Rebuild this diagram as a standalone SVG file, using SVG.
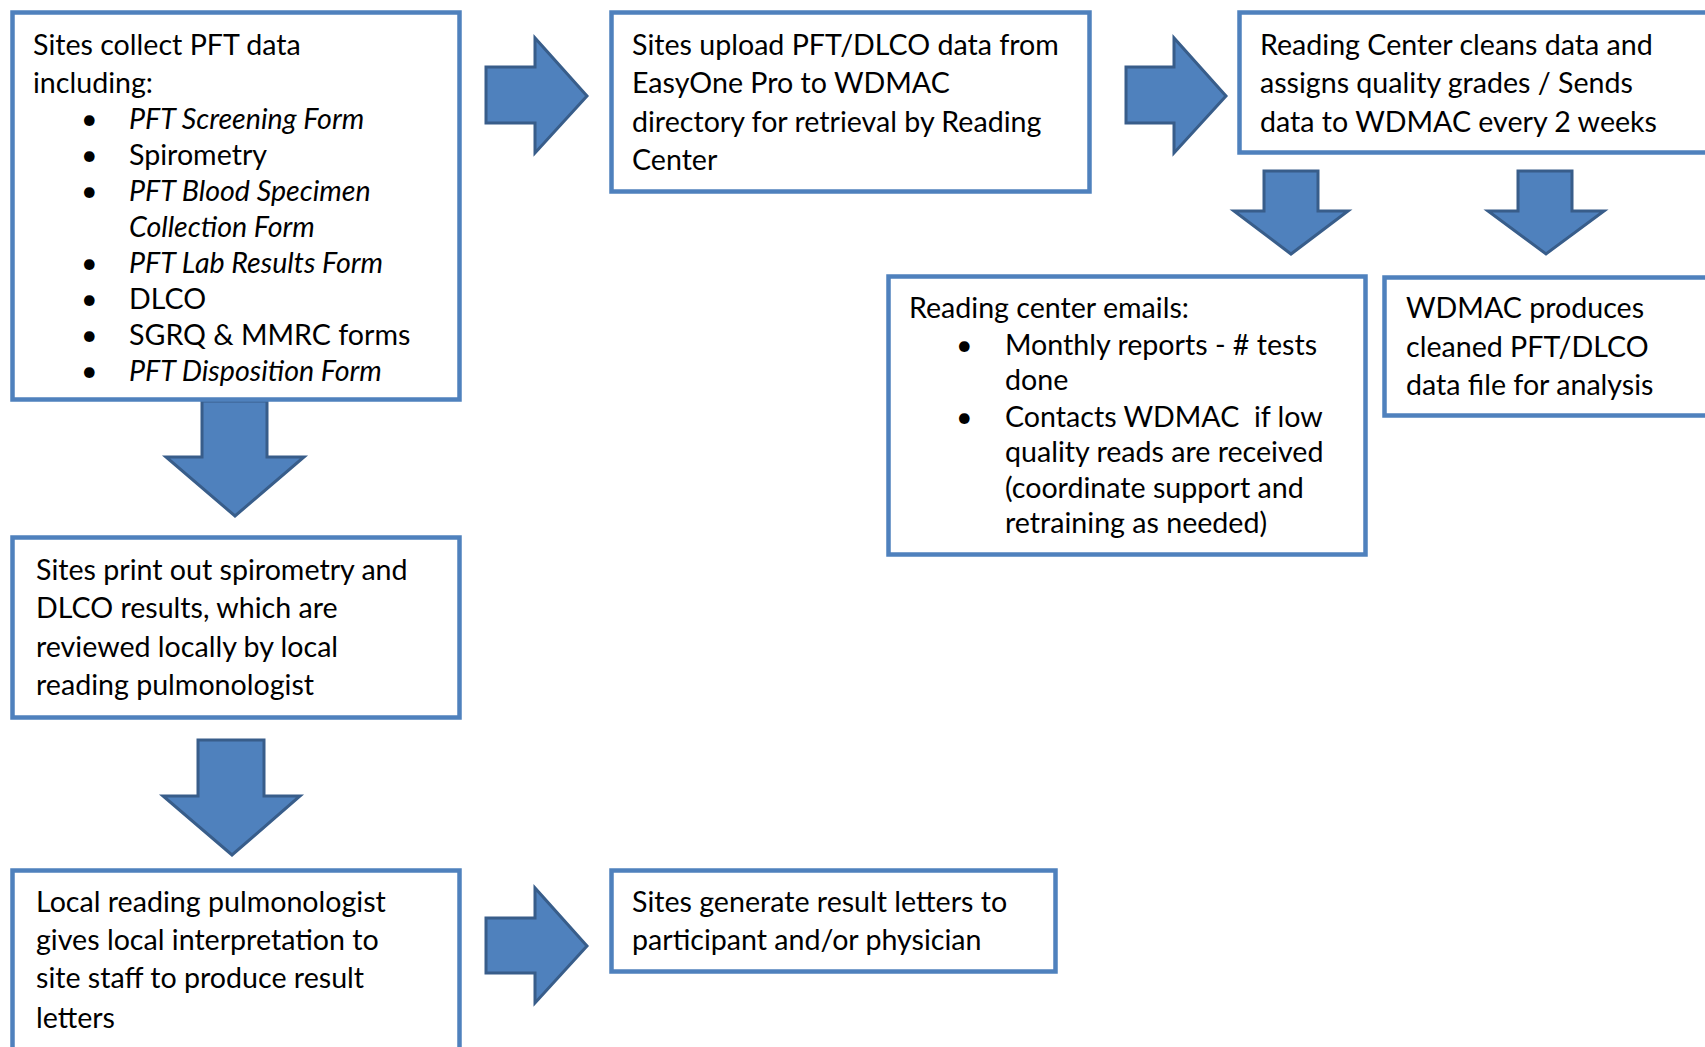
<svg xmlns="http://www.w3.org/2000/svg" width="1705" height="1047" viewBox="0 0 1705 1047">
<style>
.box{fill:#ffffff;stroke:#4f81bd;stroke-width:4.5}
.arr{fill:#4f81bd;stroke:#385d8a;stroke-width:3;stroke-linejoin:miter}
text{font-family:Lato,"Open Sans",sans-serif;font-size:28.6px;fill:#000;white-space:pre}
.i{font-style:italic}
</style>
<rect width="1705" height="1047" fill="#ffffff"/>
<g id="connectors">
<polygon class="arr" points="486,67 535,67 535,38 587,96 535,153 535,123 486,123"/>
<polygon class="arr" points="1126,67 1174,67 1174,38 1226,96 1174,153 1174,123 1126,123"/>
<polygon class="arr" points="1264,171 1318,171 1318,211 1348,211 1291,254 1234,211 1264,211"/>
<polygon class="arr" points="1518,171 1572,171 1572,211 1604,211 1546,254 1488,211 1518,211"/>
<polygon class="arr" points="202,401 267,401 267,457 304,457 235,516 166,457 202,457"/>
<polygon class="arr" points="198,740 264,740 264,796 300,796 232,855 163,796 198,796"/>
<polygon class="arr" points="486,918 535,918 535,888 587,946 535,1003 535,973 486,973"/>
</g>
<g id="n1">
<rect class="box" x="12.5" y="12.5" width="447" height="387"/>
<text x="33" y="55">Sites collect PFT data</text>
<text x="33" y="93">including:</text>
<text x="81" y="129">•</text><text class="i" x="129" y="129">PFT Screening Form</text>
<text x="81" y="165">•</text><text x="129" y="165">Spirometry</text>
<text x="81" y="201">•</text><text class="i" x="129" y="201">PFT Blood Specimen</text>
<text class="i" x="129" y="237">Collection Form</text>
<text x="81" y="273">•</text><text class="i" x="129" y="273">PFT Lab Results Form</text>
<text x="81" y="309">•</text><text x="129" y="309">DLCO</text>
<text x="81" y="345">•</text><text x="129" y="345">SGRQ &amp; MMRC forms</text>
<text x="81" y="381">•</text><text class="i" x="129" y="381">PFT Disposition Form</text>
</g>
<g id="n2">
<rect class="box" x="611.5" y="12.5" width="478" height="179"/>
<text x="632" y="55">Sites upload PFT/DLCO data from</text>
<text x="632" y="93">EasyOne Pro to WDMAC</text>
<text x="632" y="132">directory for retrieval by Reading</text>
<text x="632" y="170">Center</text>
</g>
<g id="n3">
<rect class="box" x="1239.5" y="12.5" width="500" height="140"/>
<text x="1260" y="55">Reading Center cleans data and</text>
<text x="1260" y="93">assigns quality grades / Sends</text>
<text x="1260" y="132">data to WDMAC every 2 weeks</text>
</g>
<g id="n4">
<rect class="box" x="888.5" y="276.5" width="477" height="278"/>
<text x="909" y="318">Reading center emails:</text>
<text x="956" y="355">•</text><text x="1005" y="355">Monthly reports - # tests</text>
<text x="1005" y="390">done</text>
<text x="956" y="427">•</text><text x="1005" y="427">Contacts WDMAC  if low</text>
<text x="1005" y="462">quality reads are received</text>
<text x="1005" y="498">(coordinate support and</text>
<text x="1005" y="533">retraining as needed)</text>
</g>
<g id="n5">
<rect class="box" x="1384.5" y="277.5" width="400" height="138"/>
<text x="1406" y="318">WDMAC produces</text>
<text x="1406" y="357">cleaned PFT/DLCO</text>
<text x="1406" y="395">data file for analysis</text>
</g>
<g id="n6">
<rect class="box" x="12.5" y="537.5" width="447" height="180"/>
<text x="36" y="580">Sites print out spirometry and</text>
<text x="36" y="618">DLCO results, which are</text>
<text x="36" y="657">reviewed locally by local</text>
<text x="36" y="695">reading pulmonologist</text>
</g>
<g id="n7">
<rect class="box" x="12.5" y="870.5" width="447" height="200"/>
<text x="36" y="912">Local reading pulmonologist</text>
<text x="36" y="950">gives local interpretation to</text>
<text x="36" y="988">site staff to produce result</text>
<text x="36" y="1028">letters</text>
</g>
<g id="n8">
<rect class="box" x="611.5" y="870.5" width="444" height="101"/>
<text x="632" y="912">Sites generate result letters to</text>
<text x="632" y="950">participant and/or physician</text>
</g>
</svg>
